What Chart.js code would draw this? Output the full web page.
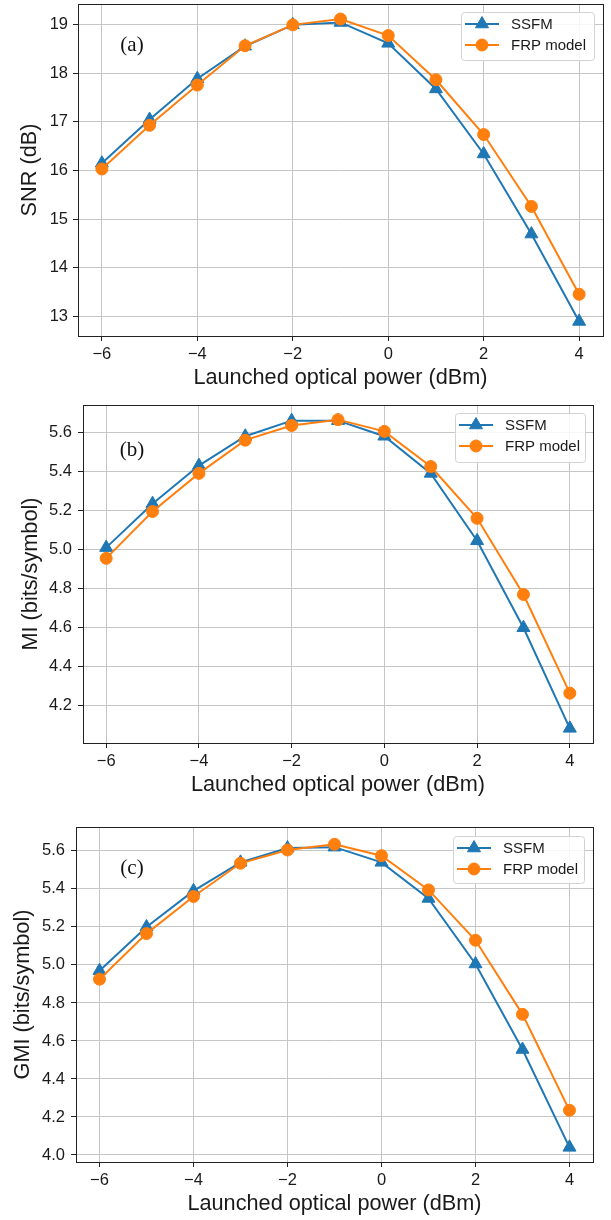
<!DOCTYPE html>
<html>
<head>
<meta charset="utf-8">
<script src="https://cdn.jsdelivr.net/npm/chart.js@4"></script>
<style>
  html, body { margin: 0; padding: 0; background: #ffffff; }
  body { width: 611px; height: 1220px; position: relative; overflow: hidden; }
  .panel { position: absolute; left: 0; width: 611px; }
  canvas { display: block; }
</style>
</head>
<body>
<div class="panel" style="top:0px;height:398px"><canvas id="cA" width="611" height="398"></canvas></div>
<div class="panel" style="top:398px;height:402px"><canvas id="cB" width="611" height="402"></canvas></div>
<div class="panel" style="top:800px;height:420px"><canvas id="cC" width="611" height="420"></canvas></div>
<script>
// ---------------- data ----------------
const powers = [-6, -5, -4, -3, -2, -1, 0, 1, 2, 3, 4];
const seriesNames = ['SSFM', 'FRP model'];

const snrSSFM = [16.15, 17.05, 17.89, 18.56, 19.00, 19.05, 18.62, 17.68, 16.34, 14.69, 12.89];
const snrFRP  = [16.03, 16.93, 17.76, 18.57, 19.00, 19.12, 18.78, 17.87, 16.74, 15.26, 13.45];

const miSSFM  = [5.010, 5.235, 5.430, 5.580, 5.660, 5.660, 5.580, 5.390, 5.045, 4.600, 4.085];
const miFRP   = [4.955, 5.195, 5.390, 5.560, 5.635, 5.665, 5.605, 5.425, 5.160, 4.770, 4.265];

const gmiSSFM = [4.970, 5.200, 5.390, 5.540, 5.615, 5.620, 5.540, 5.350, 5.005, 4.555, 4.040];
const gmiFRP  = [4.925, 5.165, 5.360, 5.535, 5.605, 5.635, 5.575, 5.395, 5.130, 4.740, 4.235];

const xTicks   = [-6, -4, -2, 0, 2, 4];
const snrTicks = [13, 14, 15, 16, 17, 18, 19];
const miTicks  = [4.2, 4.4, 4.6, 4.8, 5.0, 5.2, 5.4, 5.6];
const gmiTicks = [4.0, 4.2, 4.4, 4.6, 4.8, 5.0, 5.2, 5.4, 5.6];

// ---------------- styling ----------------
const BLUE = '#1f77b4';
const ORANGE = '#ff7f0e';
const SANS = "'Liberation Sans', Arial, 'DejaVu Sans', sans-serif";
const SERIF = "'Liberation Serif', 'Times New Roman', serif";
const TEXT = '#1a1a1a';
const GRID = '#c6c6c6';

function pts(arr) { return powers.map((p, i) => ({ x: p, y: arr[i] })); }
function fmtMinus(v) { return String(v).replace('-', '\u2212'); }

function drawMarker(ctx, style, x, y, r, color) {
  ctx.save();
  ctx.fillStyle = color;
  ctx.strokeStyle = color;
  ctx.lineWidth = 1;
  ctx.beginPath();
  if (style === 'triangle') {
    let a = 0;
    ctx.moveTo(x + Math.sin(a) * r, y - Math.cos(a) * r);
    a += 2 * Math.PI / 3;
    ctx.lineTo(x + Math.sin(a) * r, y - Math.cos(a) * r);
    a += 2 * Math.PI / 3;
    ctx.lineTo(x + Math.sin(a) * r, y - Math.cos(a) * r);
    ctx.closePath();
  } else {
    ctx.arc(x, y, r, 0, Math.PI * 2);
  }
  ctx.fill();
  ctx.stroke();
  ctx.restore();
}

// frame + panel label + matplotlib-style legend
const decorPlugin = {
  id: 'decor',
  afterDraw(chart, args, opts) {
    const ctx = chart.ctx;
    const ca = chart.chartArea;
    // frame
    ctx.save();
    ctx.strokeStyle = '#222222';
    ctx.lineWidth = 1;
    ctx.strokeRect(Math.round(ca.left) + 0.5, Math.round(ca.top) + 0.5,
                   Math.round(ca.right - ca.left), Math.round(ca.bottom - ca.top));
    ctx.restore();
    // panel label
    ctx.save();
    ctx.fillStyle = '#111111';
    ctx.font = '21px ' + SERIF;
    ctx.textAlign = 'center';
    ctx.textBaseline = 'middle';
    ctx.fillText(opts.panelLabel, ca.left + opts.labelDx, ca.top + opts.labelDy);
    ctx.restore();
    // legend
    const bw = opts.legendW, bh = opts.legendH;
    const bx = ca.right - opts.legendRight - bw;
    const by = ca.top + opts.legendTop;
    ctx.save();
    ctx.beginPath();
    if (ctx.roundRect) ctx.roundRect(bx + 0.5, by + 0.5, bw, bh, 3);
    else ctx.rect(bx + 0.5, by + 0.5, bw, bh);
    ctx.fillStyle = 'rgba(255,255,255,0.85)';
    ctx.fill();
    ctx.strokeStyle = '#d2d2d2';
    ctx.lineWidth = 1;
    ctx.stroke();
    ctx.restore();
    const rows = [by + 12, by + 33];
    chart.data.datasets.forEach((ds, i) => {
      const y = rows[i];
      ctx.save();
      ctx.strokeStyle = ds.borderColor;
      ctx.lineWidth = 2;
      ctx.beginPath();
      ctx.moveTo(bx + 4, y);
      ctx.lineTo(bx + 38, y);
      ctx.stroke();
      ctx.restore();
      drawMarker(ctx, ds.pointStyle, bx + 21, y, ds.pointRadius, ds.borderColor);
      ctx.save();
      ctx.fillStyle = TEXT;
      ctx.font = '15px ' + SANS;
      ctx.textAlign = 'left';
      ctx.textBaseline = 'middle';
      ctx.fillText(ds.label, bx + 50, y + 1);
      ctx.restore();
    });
  }
};

function makeChart(id, cfg) {
  const datasets = [
    { label: seriesNames[0], data: pts(cfg.s1), borderColor: BLUE, backgroundColor: BLUE,
      pointStyle: 'triangle', pointRadius: 7.5, pointHoverRadius: 7.5, pointBorderWidth: 1,
      borderWidth: 2, order: 2 },
    { label: seriesNames[1], data: pts(cfg.s2), borderColor: ORANGE, backgroundColor: ORANGE,
      pointStyle: 'circle', pointRadius: 6, pointHoverRadius: 6, pointBorderWidth: 1,
      borderWidth: 2, order: 1 }
  ];
  return new Chart(document.getElementById(id), {
    type: 'line',
    data: { datasets },
    options: {
      responsive: false,
      animation: false,
      devicePixelRatio: 1,
      layout: { autoPadding: false,
                padding: { top: cfg.padTop, right: cfg.padRight, left: 0, bottom: 0 } },
      plugins: {
        legend: { display: false },
        tooltip: { enabled: false },
        decor: cfg.decor
      },
      scales: {
        x: {
          type: 'linear', min: -6.5, max: 4.5,
          afterBuildTicks: (s) => { s.ticks = xTicks.map(v => ({ value: v })); },
          afterFit: (s) => { s.height = cfg.xH; s.paddingLeft = 0; s.paddingRight = 0; },
          ticks: { font: { size: 16.5, family: SANS }, color: TEXT, padding: 4, maxRotation: 0,
                   callback: (v) => fmtMinus(v) },
          grid: { color: GRID, lineWidth: 1, tickColor: '#222222', tickLength: 5, drawTicks: true },
          border: { display: false },
          title: { display: true, text: 'Launched optical power (dBm)', color: TEXT,
                   font: { size: 21.7, family: SANS }, padding: { top: 0, bottom: cfg.xTitlePad } }
        },
        y: {
          type: 'linear', min: cfg.yMin, max: cfg.yMax,
          afterBuildTicks: (s) => { s.ticks = cfg.yTicks.map(v => ({ value: v })); },
          afterFit: (s) => { s.width = cfg.yW; s.paddingTop = 0; s.paddingBottom = 0; },
          ticks: { font: { size: 16.5, family: SANS }, color: TEXT, padding: cfg.yTickPad,
                   callback: (v) => fmtMinus(v.toFixed(cfg.dec)) },
          grid: { color: GRID, lineWidth: 1, tickColor: '#222222', tickLength: 5, drawTicks: true },
          border: { display: false },
          title: { display: true, text: cfg.yTitle, color: TEXT,
                   font: { size: 21.7, family: SANS }, padding: { top: cfg.yTitlePad, bottom: 0 } }
        }
      }
    },
    plugins: [decorPlugin]
  });
}

makeChart('cA', {
  s1: snrSSFM, s2: snrFRP, yTicks: snrTicks, dec: 0,
  yMin: 12.59, yMax: 19.43, yTitle: 'SNR (dB)',
  padTop: 4, padRight: 8, yW: 78, xH: 62, xTitlePad: 7, yTitlePad: 17, yTickPad: 5,
  decor: { panelLabel: '(a)', labelDx: 54, labelDy: 41,
           legendRight: 9, legendTop: 8, legendW: 133, legendH: 48 }
});

makeChart('cB', {
  s1: miSSFM, s2: miFRP, yTicks: miTicks, dec: 1,
  yMin: 4.01, yMax: 5.74, yTitle: 'MI (bits/symbol)',
  padTop: 7, padRight: 18, yW: 83, xH: 57, xTitlePad: 1.5, yTitlePad: 18, yTickPad: 6,
  decor: { panelLabel: '(b)', labelDx: 49, labelDy: 45,
           legendRight: 8, legendTop: 8, legendW: 130, legendH: 49 }
});

makeChart('cC', {
  s1: gmiSSFM, s2: gmiFRP, yTicks: gmiTicks, dec: 1,
  yMin: 3.963, yMax: 5.726, yTitle: 'GMI (bits/symbol)',
  padTop: 27, padRight: 18, yW: 76, xH: 58, xTitlePad: 2.5, yTitlePad: 10, yTickPad: 6,
  decor: { panelLabel: '(c)', labelDx: 56, labelDy: 41,
           legendRight: 9, legendTop: 9, legendW: 131, legendH: 47 }
});
</script>
</body>
</html>
